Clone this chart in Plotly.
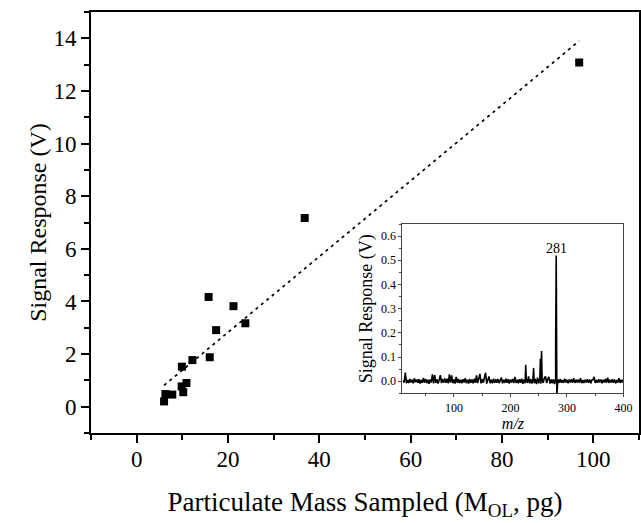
import numpy as np
import plotly.graph_objects as go

# main calibration data (pg vs V)
mass_pg = [6.0, 6.3, 7.8, 9.9, 9.85, 10.2, 10.9, 12.2, 16.0, 17.4, 15.75, 21.2, 23.8, 36.8, 96.9]
signal_v = [0.20, 0.48, 0.46, 1.52, 0.77, 0.55, 0.90, 1.77, 1.88, 2.91, 4.17, 3.82, 3.17, 7.17, 13.08]

# dashed fit line end points
fit_x = [6.0, 96.9]
fit_y = [0.81, 13.9]

# inset spectrum: baseline noise (mV) every 2 m/z from 10 to 400
noise_mv = [
    4, -6, 36, -8, 5, -7, 9, -5, 6, -9, 12, -4, 7, -6,
    8, -10, 5, -7, 14, -6, 9, -8, 6, -11, 7, -5, 28, -9,
    25, -7, 8, -10, 6, 25, -8, 9, -6, 11, -7, 10, -9, 28,
    -6, 24, -8, 7, -10, 18, -6, 9, -7, 6, -9, 8, -5, 12,
    -8, 6, -10, 9, -6, 7, -9, 10, -7, 24, -8, 12, 30, -9,
    8, -6, 11, 35, -10, 7, 20, -8, 6, -9, 10, -7, 8, -6,
    9, -8, 7, 15, -9, 6, -7, 10, -6, 8, -10, 7, -5, 9,
    -8, 18, -7, 6, -9, 8, -6, 10, -11, 7, -8, 9, -7, 20,
    -9, 8, -10, 12, -8, 9, -12, 15, -9, 11, -10, 8, -7, 14,
    20, -8, 9, 18, -10, 7, -9, 8, -12, 6, -8, 7, -6, 9,
    -6, 5, -7, 10, -5, 6, -8, 7, -5, 8, -6, 12, -7, 6,
    -5, 7, -6, 12, -8, 5, -7, 6, -5, 8, -6, 7, -9, 5,
    6, 18, -7, 5, -6, 8, -5, 7, -8, 6, -5, 9, -6, 15,
    -7, 6, -5, 8, -6, 7, -9, 5, -6, 12, -7, 6, -5, 8,
]
noise_mz = np.arange(10, 401, 2)

peak_mz = [227, 241, 253, 255, 280, 281, 282]
peak_v = [0.068, 0.055, 0.093, 0.125, 0.15, 0.52, -0.06]

spec_mz = np.concatenate([noise_mz, peak_mz])
spec_v = np.concatenate([np.array(noise_mv) / 1000.0, peak_v])
order = np.argsort(spec_mz, kind="stable")
spec_mz = spec_mz[order]
spec_v = spec_v[order]

FONT = "Liberation Serif, Times New Roman, serif"

fig = go.Figure()
fig.add_trace(go.Scatter(x=fit_x, y=fit_y, mode="lines",
                         line=dict(color="black", width=1.7, dash="3px,4px")))
fig.add_trace(go.Scatter(x=mass_pg, y=signal_v, mode="markers",
                         marker=dict(symbol="square", size=8, color="black")))
fig.add_trace(go.Scatter(x=spec_mz, y=spec_v, mode="lines", xaxis="x2", yaxis="y2",
                         line=dict(color="black", width=1.6)))

fig.update_layout(
    width=641, height=523, autosize=False,
    margin=dict(l=91, r=2, t=12, b=90, autoexpand=False),
    paper_bgcolor="white", plot_bgcolor="white",
    showlegend=False,
    font=dict(family=FONT, color="black"),
    xaxis=dict(range=[-10, 110], dtick=20, tick0=0, showgrid=False, zeroline=False,
               showline=True, linewidth=2, linecolor="black", mirror=True, automargin=False,
               ticks="outside", ticklen=8, tickwidth=1.5, tickcolor="black",
               minor=dict(dtick=10, tick0=0, ticks="outside", ticklen=5, tickwidth=1.5, tickcolor="black"),
               tickfont=dict(size=23), ticklabelstandoff=-4,
               title=dict(text="Particulate Mass Sampled (M<sub>OL</sub>, pg)", font=dict(size=27), standoff=22)),
    yaxis=dict(range=[-1, 15], dtick=2, tick0=0, showgrid=False, zeroline=False,
               showline=True, linewidth=2, linecolor="black", mirror=True, automargin=False,
               ticks="outside", ticklen=8, tickwidth=1.5, tickcolor="black",
               minor=dict(dtick=1, tick0=0, ticks="outside", ticklen=5, tickwidth=1.5, tickcolor="black"),
               tickfont=dict(size=23),
               title=dict(text="Signal Response (V)", font=dict(size=24), standoff=0)),
    xaxis2=dict(domain=[0.5684, 0.9717], anchor="y2", range=[9, 400], dtick=100, tick0=0,
                showgrid=False, zeroline=False, showline=True, linewidth=1, linecolor="#444",
                mirror=True, automargin=False, ticks="outside", ticklen=3, tickwidth=1, tickcolor="#444",
                minor=dict(dtick=50, tick0=0, ticks="outside", ticklen=2, tickwidth=1, tickcolor="#444"),
                tickfont=dict(size=12),
                title=dict(text="<i>m/z</i>", font=dict(size=16), standoff=0)),
    yaxis2=dict(domain=[0.0943, 0.4964], anchor="x2", range=[-0.05, 0.65], dtick=0.1, tick0=0,
                tickformat=".1f", showgrid=False, zeroline=False, showline=True, linewidth=1,
                linecolor="#444", mirror=True, automargin=False, ticks="outside", ticklen=3,
                tickwidth=1, tickcolor="#444",
                minor=dict(dtick=0.05, tick0=0, ticks="outside", ticklen=2, tickwidth=1, tickcolor="#444"),
                tickfont=dict(size=12),
                title=dict(text="Signal Response (V)", font=dict(size=18), standoff=3)),
    annotations=[dict(x=281, y=0.52, xref="x2", yref="y2", text="281", showarrow=False,
                      yanchor="bottom", yshift=-3, font=dict(size=14))],
)

# the page body has a default 8px margin, drop it so the figure fills the window
fig.write_html("out.html", config={"displayModeBar": False},
               post_script="document.body.style.margin='0';")
